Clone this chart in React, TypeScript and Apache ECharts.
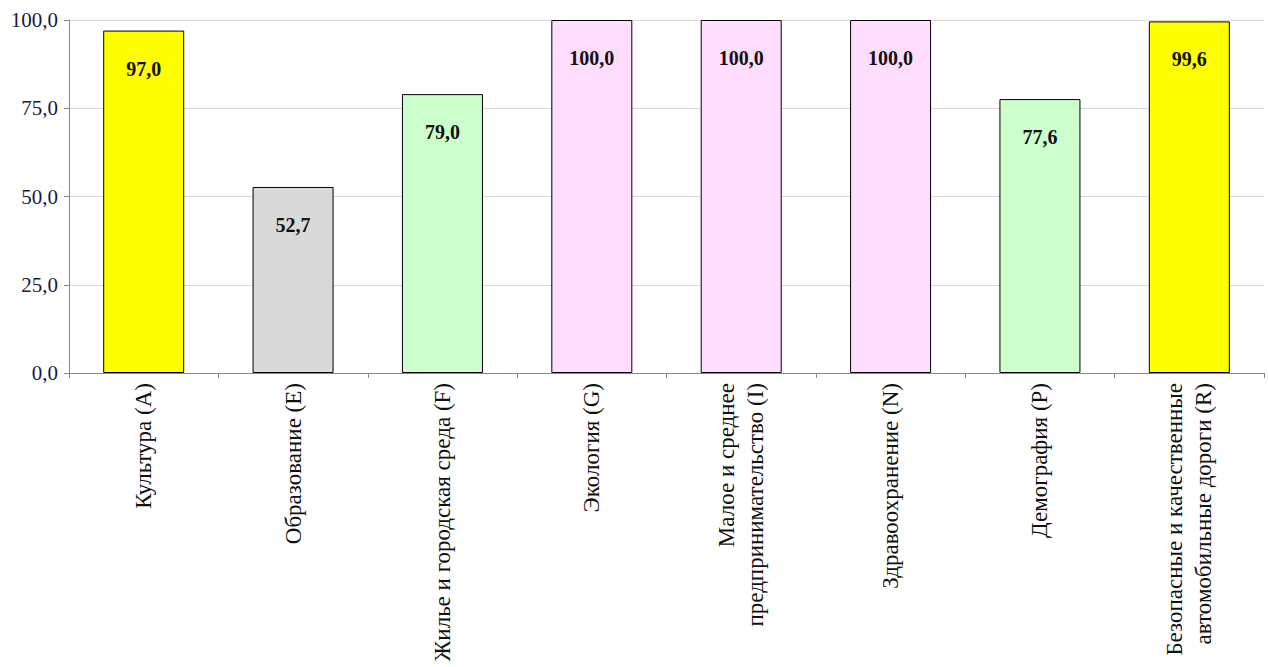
import React, { useEffect, useRef } from "react";
import * as echarts from "echarts";

const categories = [
  "Культура (A)",
  "Образование (E)",
  "Жилье и городская среда (F)",
  "Экология (G)",
  "Малое и среднее\nпредпринимательство (I)",
  "Здравоохранение (N)",
  "Демография (P)",
  "Безопасные и качественные\nавтомобильные дороги (R)",
];
const values = [97.0, 52.7, 79.0, 100.0, 100.0, 100.0, 77.6, 99.6];
const barColors = ["#FFFF00", "#D9D9D9", "#CCFFCC", "#FFDDFF", "#FFDDFF", "#FFDDFF", "#CCFFCC", "#FFFF00"];
const yTicks = [0, 25, 50, 75, 100];

const fmt = (v: number) => v.toFixed(1).replace(".", ",");

export default function App() {
  const ref = useRef<HTMLDivElement>(null);
  useEffect(() => {
    if (!ref.current) return;
    const chart = echarts.init(ref.current, undefined, { renderer: "svg" });
    const font = "'Liberation Serif', 'Times New Roman', serif";
    chart.setOption({
      animation: false,
      backgroundColor: "#ffffff",
      grid: { left: 69, right: 4, top: 20, bottom: 294, containLabel: false },
      xAxis: {
        type: "category",
        data: categories,
        axisLine: { show: true, lineStyle: { color: "#868686", width: 1 } },
        axisTick: { show: true, length: 5, alignWithLabel: false, lineStyle: { color: "#868686" } },
        axisLabel: {
          rotate: 90,
          interval: 0,
          margin: 10,
          fontFamily: font,
          fontSize: 23,
          lineHeight: 29,
          color: "#111111",
        },
      },
      yAxis: {
        type: "value",
        min: yTicks[0],
        max: yTicks[yTicks.length - 1],
        interval: 25,
        axisLine: { show: true, lineStyle: { color: "#868686", width: 1 } },
        axisTick: { show: true, inside: false, length: 5, lineStyle: { color: "#868686" } },
        axisLabel: {
          margin: 11,
          fontFamily: font,
          fontSize: 21,
          color: "#1a1a3a",
          formatter: (v: number) => fmt(v),
        },
        splitLine: { show: true, lineStyle: { color: "#d9d9d9", width: 1 } },
      },
      series: [
        {
          type: "bar",
          barWidth: 81,
          data: values.map((v, i) => ({
            value: v,
            itemStyle: { color: barColors[i], borderColor: "#000000", borderWidth: 1 },
          })),
          label: {
            show: true,
            position: "insideTop",
            distance: 28,
            fontFamily: font,
            fontWeight: "bold",
            fontSize: 20,
            color: "#111111",
            formatter: (p: any) => fmt(p.value),
          },
        },
      ],
    });
    return () => chart.dispose();
  }, []);
  return (
    <div
      ref={ref}
      style={{ position: "absolute", left: 0, top: 0, width: 1268, height: 667 }}
    />
  );
}
